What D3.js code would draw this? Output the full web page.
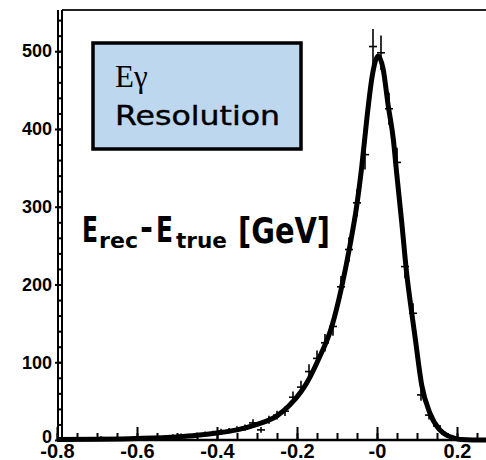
<!DOCTYPE html>
<html>
<head>
<meta charset="utf-8">
<script src="https://cdn.jsdelivr.net/npm/d3@7"></script>
<style>
  body { margin: 0; background: #fff; }
  svg { display: block; }
</style>
</head>
<body>
<div class="container"></div>
<script>
// histogram bins (centre, counts), bin width 0.02 GeV
const binCenters = [-0.79,-0.77,-0.75,-0.73,-0.71,-0.69,-0.67,-0.65,-0.63,-0.61,-0.59,-0.57,-0.55,-0.53,-0.51,
                    -0.49,-0.47,-0.45,-0.43,-0.41,-0.39,-0.37,-0.35,-0.33,-0.31,-0.29,-0.27,-0.25,-0.23,-0.21,
                    -0.19,-0.17,-0.15,-0.13,-0.11,-0.09,-0.07,-0.05,-0.03,-0.01,0.01,0.03,0.05,0.07,0.09,
                    0.11,0.13,0.15,0.17,0.19,0.21,0.23,0.25];
const binCounts  = [1,0,2,1,1,3,2,1,2,3,2,3,3,4,5,
                    6,5,7,8,9,11,12,14,16,22,13,26,32,37,55,
                    68,88,105,125,146,197,245,305,367,506,498,426,357,223,163,
                    58,32,18,8,3,1,0,0];
const binWidth = 0.02;

// fitted curve
const fitX = [-0.80,-0.70,-0.60,-0.50,-0.45,-0.40,-0.35,-0.30,-0.25,-0.22,-0.19,-0.175,-0.147,-0.113,-0.09,-0.068,-0.051,-0.038,
              -0.025,-0.012,0.003,0.015,0.028,0.041,0.049,0.062,0.074,0.087,0.095,0.112,0.132,0.157,0.175,0.19,0.21,0.24,0.28];
const fitY = [0.5,1,2,4,6,9,13,20,31,44,62,74,103,146,193,249,300,352,
              415,468,494,478,430,386,344,279,215,163,133,70,35,13,6,3,0.5,0,0];

const xTickValues = [-0.8,-0.6,-0.4,-0.2,0,0.2];
const xTickLabels = ['-0.8','-0.6','-0.4','-0.2','-0','0.2'];
const yTickValues = [0,100,200,300,400,500];

const width = 486;
const height = 460;

const svg = d3.select('.container')
              .append('svg')
              .attr('width', width)
              .attr('height', height);

const x = d3.scaleLinear().domain([-0.8, 0.2725]).range([57, 486]);
const y = d3.scaleLinear().domain([0, 553]).range([440, 10]);

const labelFont = '"Liberation Sans", Arial, sans-serif';

// frame
svg.append('line').attr('x1', 62).attr('x2', width).attr('y1', 10).attr('y2', 10)
   .attr('stroke', '#222').attr('stroke-width', 2);
svg.append('line').attr('x1', 58).attr('x2', 58).attr('y1', 10).attr('y2', 441)
   .attr('stroke', '#000').attr('stroke-width', 2);
svg.append('line').attr('x1', 62).attr('x2', 62).attr('y1', 10).attr('y2', 440)
   .attr('stroke', '#000').attr('stroke-width', 2);
svg.append('line').attr('x1', 57).attr('x2', width).attr('y1', 440).attr('y2', 440)
   .attr('stroke', '#000').attr('stroke-width', 2.5);

// x axis ticks
const xMinor = svg.append('g').attr('transform', 'translate(0,440)')
  .call(d3.axisBottom(x).tickValues(d3.range(-0.8, 0.28, 0.05)).tickSize(-7).tickFormat(''));
const xMajor = svg.append('g').attr('transform', 'translate(0,440)')
  .call(d3.axisBottom(x).tickValues(xTickValues).tickSize(-13).tickPadding(4)
        .tickFormat((d, i) => xTickLabels[i]));
[xMinor, xMajor].forEach(g => {
  g.select('.domain').remove();
  g.selectAll('.tick line').attr('stroke', '#000').attr('stroke-width', 2);
});
xMajor.selectAll('.tick text')
  .attr('font-family', labelFont).attr('font-weight', 'bold')
  .attr('font-size', 20).attr('fill', '#000');

// y axis ticks (ladder between the two left lines)
const yMinor = svg.append('g').attr('transform', 'translate(63,0)')
  .call(d3.axisLeft(y).tickValues(d3.range(0, 553, 20)).tickSize(6).tickFormat(''));
const yMajor = svg.append('g').attr('transform', 'translate(63,0)')
  .call(d3.axisLeft(y).tickValues(yTickValues).tickSize(8).tickPadding(3));
[yMinor, yMajor].forEach(g => {
  g.select('.domain').remove();
  g.selectAll('.tick line').attr('stroke', '#000').attr('stroke-width', 2);
});
yMajor.selectAll('.tick text')
  .attr('font-family', labelFont).attr('font-weight', 'bold')
  .attr('font-size', 18).attr('fill', '#000')
  .attr('dy', d => d === 0 ? '0.15em' : '0.32em');

// data points with error bars
const bins = binCenters.map((c, i) => ({c, n: binCounts[i]})).filter(d => d.n > 0);
const pts = svg.append('g').attr('stroke', '#000').attr('stroke-width', 1.6);
pts.selectAll('line.h').data(bins).enter().append('line').attr('class', 'h')
   .attr('x1', d => x(d.c - binWidth / 2)).attr('x2', d => x(d.c + binWidth / 2))
   .attr('y1', d => y(d.n)).attr('y2', d => y(d.n));
pts.selectAll('line.v').data(bins).enter().append('line').attr('class', 'v')
   .attr('x1', d => x(d.c)).attr('x2', d => x(d.c))
   .attr('y1', d => y(d.n + Math.sqrt(d.n)))
   .attr('y2', d => Math.min(440, y(d.n - Math.sqrt(d.n))));

// fit curve
const line = d3.line()
  .x((d, i) => x(fitX[i]))
  .y(d => y(d))
  .curve(d3.curveMonotoneX);
svg.append('path')
   .datum(fitY)
   .attr('d', line)
   .attr('fill', 'none')
   .attr('stroke', '#000')
   .attr('stroke-width', 5)
   .attr('stroke-linejoin', 'round');

// label box
svg.append('rect')
   .attr('x', 93).attr('y', 43).attr('width', 208).attr('height', 106)
   .attr('fill', '#bdd7ee').attr('stroke', '#000').attr('stroke-width', 3.5);
svg.append('text').attr('x', 115).attr('y', 87)
   .attr('font-family', '"Liberation Serif", "Times New Roman", serif')
   .attr('font-size', 31).text('Eγ');
svg.append('text').attr('x', 115).attr('y', 125)
   .attr('font-family', '"Comic Sans MS", "DejaVu Sans", sans-serif')
   .attr('font-size', 27).attr('font-weight', 500)
   .attr('stroke', '#000').attr('stroke-width', 0.4)
   .attr('textLength', 165).attr('lengthAdjust', 'spacingAndGlyphs')
   .text('Resolution');

// axis title E_rec - E_true [GeV]
const titleFont = '"Comic Sans MS", "DejaVu Sans", sans-serif';
const parts = [
  {t: 'E',     x: 82,  y: 242, s: 35, w: 16},
  {t: 'rec',   x: 99,  y: 248, s: 22, w: 39},
  {t: '-',     x: 140, y: 240, s: 35, w: 13},
  {t: 'E',     x: 156, y: 242, s: 35, w: 17},
  {t: 'true',  x: 176, y: 248, s: 22, w: 51},
  {t: '[GeV]', x: 238, y: 243, s: 35, w: 92}
];
svg.append('g').selectAll('text').data(parts).enter().append('text')
   .attr('x', d => d.x).attr('y', d => d.y)
   .attr('font-family', titleFont).attr('font-weight', 'bold')
   .attr('font-size', d => d.s)
   .attr('textLength', d => d.w).attr('lengthAdjust', 'spacingAndGlyphs')
   .text(d => d.t);
</script>
</body>
</html>
